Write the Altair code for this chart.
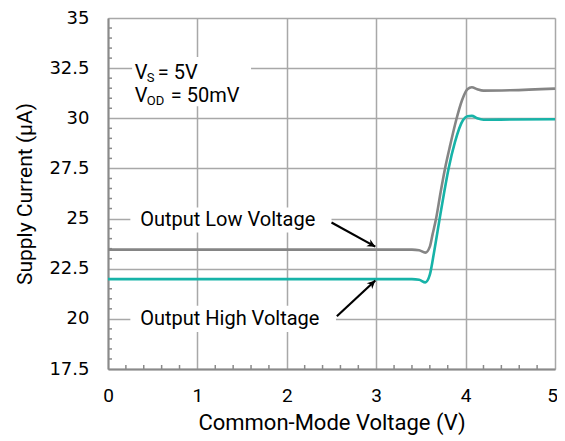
import altair as alt
import pandas as pd

# ---- data ----
low_x = [0.0, 3.40, 3.48, 3.55, 3.60, 3.63, 3.67, 3.72, 3.77, 3.83, 3.90, 3.96, 4.02, 4.07, 4.13, 4.20, 4.50, 5.00]
low_y = [23.45, 23.45, 23.42, 23.30, 23.60, 24.20, 25.00, 26.30, 27.50, 28.70, 30.00, 30.90, 31.45, 31.55, 31.45, 31.38, 31.40, 31.48]
high_x = [0.0, 3.40, 3.48, 3.55, 3.60, 3.65, 3.71, 3.76, 3.81, 3.88, 3.97, 4.02, 4.07, 4.13, 4.20, 4.50, 5.00]
high_y = [21.98, 21.98, 21.95, 21.82, 22.20, 23.40, 25.00, 26.30, 27.50, 28.80, 29.90, 30.10, 30.12, 30.00, 29.93, 29.94, 29.95]

x_ticks = [0, 1, 2, 3, 4, 5]
y_ticks = [17.5, 20, 22.5, 25, 27.5, 30, 32.5, 35]
x_minor = [0.2, 0.4, 0.6, 0.8, 1.2, 1.4, 1.6, 1.8, 2.2, 2.4, 2.6, 2.8, 3.2, 3.4, 3.6, 3.8, 4.2, 4.4, 4.6, 4.8]
y_minor = [18, 18.5, 19, 19.5, 20.5, 21, 21.5, 22, 23, 23.5, 24, 24.5, 25.5, 26, 26.5, 27, 28, 28.5, 29, 29.5,
           30.5, 31, 31.5, 32, 33, 33.5, 34, 34.5]

series_names = ["Output Low Voltage", "Output High Voltage"]
colors = ["#858585", "#17b3a8"]

# annotation boxes (white backgrounds behind labels)
box_x1 = [0.25, 0.25, 0.27]
box_x2 = [2.50, 2.55, 1.60]
box_y1 = [24.30, 19.35, 30.60]
box_y2 = [25.55, 20.65, 33.05]

# label anchors
lab_text = ["Output Low Voltage", "Output High Voltage"]
lab_x = [0.36, 0.36]
lab_y = [24.94, 19.98]

# arrows: start -> tip
arr_x1 = [2.50, 2.56]
arr_y1 = [24.80, 20.13]
arr_x2 = [2.99, 2.99]
arr_y2 = [23.60, 21.91]
arr_angle = [29.3, 316.8]

W, H = 447, 351
FONT = "Roboto"

rows = []
for xv, yv in zip(low_x, low_y):
    rows.append({"x": xv, "y": yv, "s": series_names[0]})
for xv, yv in zip(high_x, high_y):
    rows.append({"x": xv, "y": yv, "s": series_names[1]})
df = pd.DataFrame(rows)

xs = alt.Scale(domain=[0, 5], nice=False, zero=False)
ys = alt.Scale(domain=[17.5, 35], nice=False, zero=False)

base_axes = alt.Chart(pd.DataFrame({"x": [0], "y": [17.5]})).mark_point(opacity=0).encode(
    x=alt.X("x:Q", scale=xs, axis=alt.Axis(
        values=x_ticks, format="d", title="Common-Mode Voltage (V)", grid=True, gridColor="#a8a8a8",
        gridWidth=1.5, ticks=False, domainColor="#8a8a8a", domainWidth=2, labelFont=FONT, labelFontSize=19,
        labelColor="#000", labelPadding=17, labelFlush=False,
        labelOffset={"condition": {"test": "datum.value == 5", "value": -3}, "value": 0},
        titleFont=FONT, titleFontSize=22,
        titleFontWeight="normal", titleColor="#000", titlePadding=7)),
    y=alt.Y("y:Q", scale=ys, axis=alt.Axis(
        values=y_ticks, format=".1~f", title="Supply Current (µA)", grid=True, gridColor="#a8a8a8",
        gridWidth=1.5, ticks=False, domainColor="#8a8a8a", domainWidth=2, labelFont="DejaVu Sans",
        labelFontSize=18, labelColor="#000", labelPadding=19, labelFlush=False, titleFont=FONT,
        titleFontSize=21, titleFontWeight="normal", titleColor="#000", titlePadding=13)),
)

xminor = alt.Chart(pd.DataFrame({"x": x_minor})).mark_rule(color="#8a8a8a", strokeWidth=1.5).encode(
    x=alt.X("x:Q", scale=xs), y=alt.value(H), y2=alt.value(H - 4))
yminor = alt.Chart(pd.DataFrame({"y": y_minor})).mark_rule(color="#8a8a8a", strokeWidth=1.5).encode(
    y=alt.Y("y:Q", scale=ys), x=alt.value(0), x2=alt.value(4))

boxes = alt.Chart(pd.DataFrame({"x1": box_x1, "x2": box_x2, "y1": box_y1, "y2": box_y2})).mark_rect(
    color="white").encode(
    x=alt.X("x1:Q", scale=xs), x2="x2:Q", y=alt.Y("y1:Q", scale=ys), y2="y2:Q")

lines = alt.Chart(df).mark_line(strokeWidth=2.6, interpolate="monotone").encode(
    x=alt.X("x:Q", scale=xs),
    y=alt.Y("y:Q", scale=ys),
    color=alt.Color("s:N", scale=alt.Scale(domain=series_names, range=colors), legend=None),
    detail="s:N",
)

labels = alt.Chart(pd.DataFrame({"x": lab_x, "y": lab_y, "t": lab_text})).mark_text(
    align="left", baseline="middle", font=FONT, fontSize=20, fontWeight="normal", color="#000").encode(
    x=alt.X("x:Q", scale=xs), y=alt.Y("y:Q", scale=ys), text="t:N")

arrow_df = pd.DataFrame({"x1": arr_x1, "y1": arr_y1, "x2": arr_x2, "y2": arr_y2, "a": arr_angle})
arrow_lines = alt.Chart(arrow_df).mark_rule(color="#000", strokeWidth=2.2).encode(
    x=alt.X("x1:Q", scale=xs), y=alt.Y("y1:Q", scale=ys), x2="x2:Q", y2="y2:Q")
arrow_heads = alt.Chart(arrow_df).mark_point(
    shape="M0,0 L-1,-0.5 L-0.7,0 L-1,0.5 Z", filled=True, color="#000", opacity=1, size=260).encode(
    x=alt.X("x2:Q", scale=xs), y=alt.Y("y2:Q", scale=ys), angle=alt.Angle("a:Q", scale=None))

# condition labels V_S and V_OD
cond_x = [0.30]
vs_y = [32.27]
vod_y = [31.13]
def txt(yvals, text, dx, dy=0, size=20):
    return alt.Chart(pd.DataFrame({"x": cond_x, "y": yvals})).mark_text(
        align="left", baseline="middle", font=FONT, fontSize=size, fontWeight="normal", color="#000",
        dx=dx, dy=dy, text=text).encode(x=alt.X("x:Q", scale=xs), y=alt.Y("y:Q", scale=ys))

cond = (txt(vs_y, "V", 0) + txt(vs_y, "S", 12, 5, 13) + txt(vs_y, "= 5V", 23)
        + txt(vod_y, "V", 0) + txt(vod_y, "OD", 12, 5, 13) + txt(vod_y, "= 50mV", 36))

chart = alt.layer(base_axes, boxes, xminor, yminor, lines, labels, arrow_lines, arrow_heads, cond).properties(
    width=W, height=H,
    autosize=alt.AutoSizeParams(type="none"),
    padding={"left": 100, "top": 10, "right": 2, "bottom": 70},
).configure_view(stroke="#000", strokeWidth=2).configure(background="white")

chart.save("out.html", embed_options={"renderer": "svg", "actions": False})
